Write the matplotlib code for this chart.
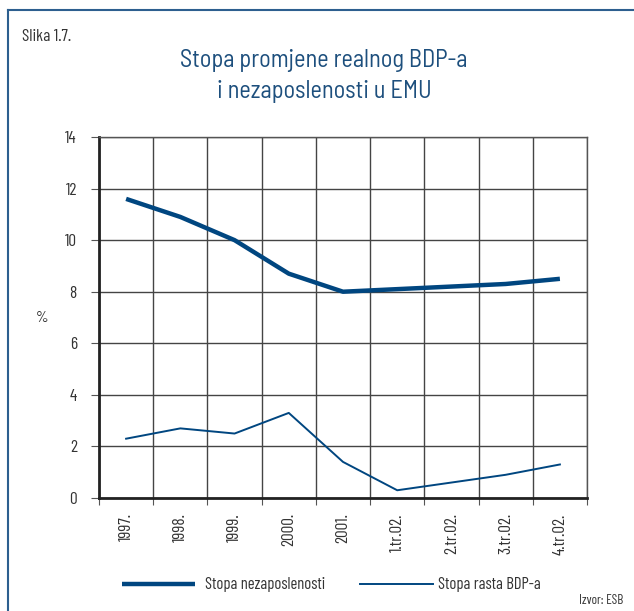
import matplotlib
matplotlib.use("Agg")
import matplotlib.pyplot as plt
from matplotlib.lines import Line2D

categories = ["1997.", "1998.", "1999.", "2000.", "2001.", "1.tr.02.", "2.tr.02.", "3.tr.02.", "4.tr.02."]
unemployment = [11.6, 10.9, 10.0, 8.7, 8.0, 8.1, 8.2, 8.3, 8.5]
gdp_growth = [2.3, 2.7, 2.5, 3.3, 1.4, 0.3, 0.6, 0.9, 1.3]
y_ticks = [0, 2, 4, 6, 8, 10, 12, 14]

plt.rcParams["font.family"] = ["Barlow Condensed", "DejaVu Sans"]

line_col = "#004680"
title_col = "#1d4f7d"
txt_col = "#333333"
W, H = 634, 611

fig = plt.figure(figsize=(6.34, 6.11), dpi=100)
# border (top and left)
fig.add_artist(Line2D([8/W, 8/W], [0, 1 - 10/H], transform=fig.transFigure, color="#2d5f8f", lw=1.5))
fig.add_artist(Line2D([8/W, 1], [1 - 10/H, 1 - 10/H], transform=fig.transFigure, color="#2d5f8f", lw=1.5))

ax = fig.add_axes([99/W, 1 - 498/H, (587 - 99)/W, (498 - 137)/H])
n = len(categories)
x = [i + 0.5 for i in range(n)]
l1, = ax.plot(x, unemployment, color=line_col, lw=3.2, solid_capstyle="butt", zorder=3)
l2, = ax.plot(x, gdp_growth, color=line_col, lw=1.4, zorder=3)

ax.set_xlim(0, n)
ax.set_ylim(0, 14)
ax.set_yticks(y_ticks)
ax.set_yticklabels([str(v) for v in y_ticks], fontsize=12.5, color=txt_col)
ax.set_xticks(range(n + 1))
ax.set_xticklabels([])
ax.set_xticks(x, minor=True)
ax.set_xticklabels(categories, minor=True, rotation=90, fontsize=12.5, color=txt_col)
ax.tick_params(axis="x", which="minor", length=0, pad=11)
ax.tick_params(axis="x", which="major", length=5, direction="out", color="#555555")
ax.tick_params(axis="y", length=6, direction="out", color="#555555", pad=10)
ax.grid(True, which="major", color="#444444", lw=1.0)
ax.set_axisbelow(True)
for s in ["top", "right"]:
    ax.spines[s].set_color("#555555")
    ax.spines[s].set_linewidth(1.0)
for s in ["left", "bottom"]:
    ax.spines[s].set_linewidth(2.0)
    ax.spines[s].set_color("#222222")

fig.text(42/W, 1 - 318/H, "%", fontsize=11.5, color=txt_col, ha="center", va="center")
fig.text(22/W, 1 - 41/H, "Slika 1.7.", fontsize=12.5, color=txt_col, ha="left", va="baseline")
fig.text(324/W, 1 - 67/H, "Stopa promjene realnog BDP-a", fontsize=17.5, color=title_col,
         ha="center", va="baseline", family=["Barlow Semi Condensed", "DejaVu Sans"])
fig.text(324/W, 1 - 98/H, "i nezaposlenosti u EMU", fontsize=17.5, color=title_col,
         ha="center", va="baseline", family=["Barlow Semi Condensed", "DejaVu Sans"])
fig.text(623/W, 1 - 600/H, "Izvor: ESB", fontsize=9.5, color=txt_col, ha="right", va="center")

leg1 = fig.legend([l1], ["Stopa nezaposlenosti"], loc="center left", bbox_to_anchor=(122/W, 1 - 585/H),
                  frameon=False, fontsize=12, handlelength=4.4, handletextpad=0.6, borderpad=0,
                  borderaxespad=0, labelcolor=txt_col)
leg2 = fig.legend([l2], ["Stopa rasta BDP-a"], loc="center left", bbox_to_anchor=(360/W, 1 - 585/H),
                  frameon=False, fontsize=12, handlelength=4.4, handletextpad=0.25, borderpad=0,
                  borderaxespad=0, labelcolor=txt_col)

fig.savefig("out.png", dpi=100)
